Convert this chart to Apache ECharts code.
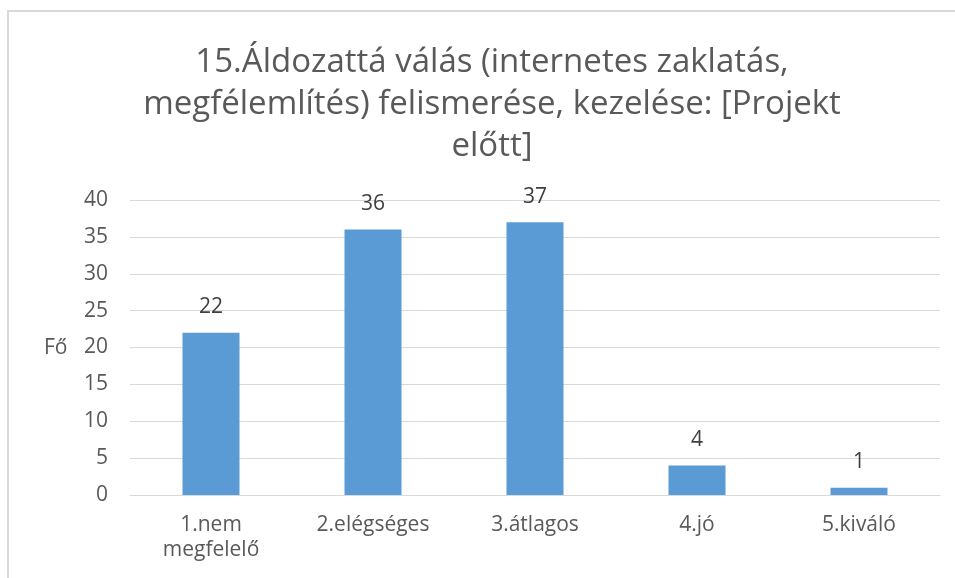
<!doctype html>
<html>
    <head>
        <meta charset="utf-8">
        <title>15. Áldozattá válás</title>
        <style>
            html, body { margin: 0; padding: 0; background: #fff; }
            #main { width: 955px; height: 578px; }
        </style>
    </head>
    <body>
        <div id="main"></div>
        <script src="https://cdn.jsdelivr.net/npm/echarts@6/dist/echarts.min.js"></script>
        <script>
            var chart = echarts.init(document.getElementById('main'));

            var titleText = '15.Áldozattá válás (internetes zaklatás,\nmegfélemlítés) felismerése, kezelése: [Projekt\nelőtt]';
            var categories = ['1.nem\nmegfelelő', '2.elégséges', '3.átlagos', '4.jó', '5.kiváló'];
            var values = [22, 36, 37, 4, 1];
            var yName = 'Fő';

            var textColor = '#595959';
            var font = '"Open Sans", sans-serif';

            chart.setOption({
                animation: false,
                textStyle: { fontFamily: font },
                title: {
                    text: titleText,
                    left: 487,
                    top: 37,
                    textAlign: 'center',
                    textStyle: {
                        color: textColor,
                        fontSize: 33,
                        fontWeight: 'normal',
                        fontFamily: font,
                        lineHeight: 42
                    }
                },
                graphic: [{
                    type: 'polyline',
                    shape: { points: [[8, 578], [8, 11], [955, 11]] },
                    style: { stroke: '#d9d9d9', lineWidth: 2, fill: null }
                }, {
                    type: 'text',
                    left: 44,
                    top: 338,
                    style: { text: yName, fill: textColor, fontSize: 21, fontFamily: font }
                }],
                grid: { left: 130, right: 15, top: 200, bottom: 83 },
                xAxis: {
                    type: 'category',
                    data: categories,
                    axisLine: { show: true, lineStyle: { color: '#d9d9d9' } },
                    axisTick: { show: false },
                    axisLabel: {
                        color: textColor,
                        fontSize: 21,
                        margin: 18,
                        lineHeight: 25,
                        interval: 0
                    }
                },
                yAxis: {
                    type: 'value',
                    min: 0,
                    max: 40,
                    interval: 5,
                    axisLine: { show: false },
                    axisTick: { show: false },
                    axisLabel: { color: textColor, fontSize: 21, margin: 22 },
                    splitLine: { lineStyle: { color: '#d9d9d9' } }
                },
                series: [{
                    type: 'bar',
                    data: values,
                    barWidth: 57,
                    itemStyle: { color: '#5b9bd5' },
                    label: {
                        show: true,
                        position: 'top',
                        distance: 15,
                        color: '#404040',
                        fontSize: 21
                    }
                }]
            });

            window.onresize = chart.resize;
        </script>
    </body>
</html>
